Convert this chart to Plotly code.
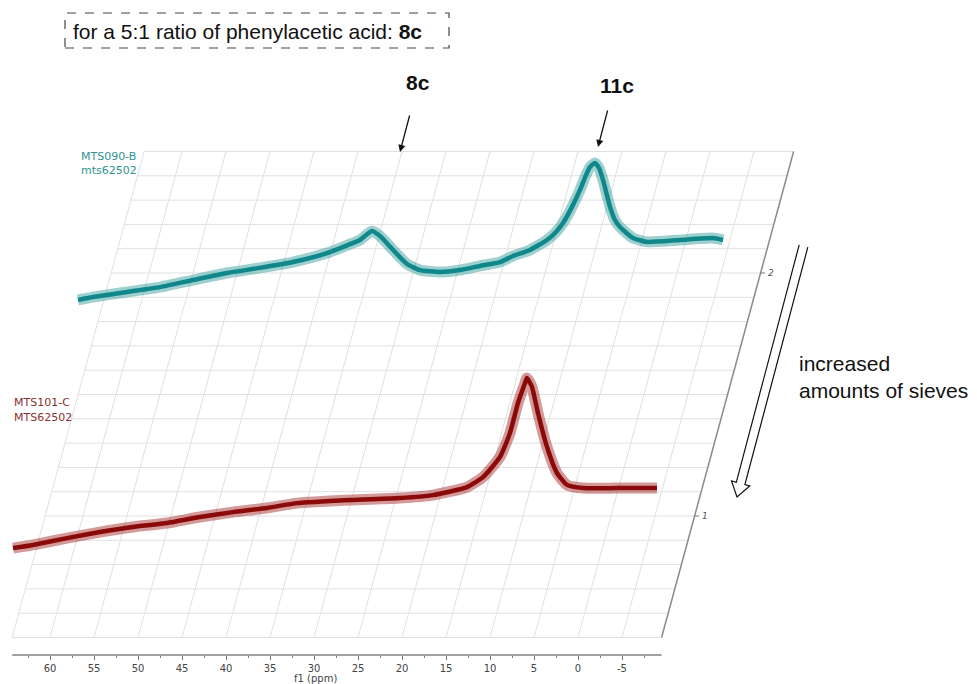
import plotly.graph_objects as go

# ---------------- data ----------------
# Spectrum 2 (top, teal): MTS090-B / mts62502
teal_ppm = [64.32, 62.61, 58.75, 55.00, 51.25, 47.39, 43.64, 39.89, 36.02, 33.41,
            32.27, 30.91, 30.00, 28.52, 26.93, 25.45, 23.18, 20.91, 18.64, 16.36,
            14.89, 12.95, 11.02, 10.00, 9.20, 8.18, 7.27, 6.59, 6.14, 5.57,
            5.11, 4.66, 3.86, 3.30, 2.73, 1.25, -0.34, -4.09, -7.84, -8.98]
teal_int = [-0.111, -0.099, -0.078, -0.058, -0.029, 0.000, 0.021, 0.045, 0.082, 0.119,
            0.136, 0.173, 0.152, 0.095, 0.037, 0.012, 0.004, 0.012, 0.029, 0.045,
            0.070, 0.095, 0.136, 0.169, 0.206, 0.272, 0.342, 0.403, 0.436, 0.453,
            0.432, 0.383, 0.272, 0.218, 0.189, 0.144, 0.128, 0.136, 0.144, 0.136]

# Spectrum 1 (bottom, dark red): MTS101-C / MTS62502
red_ppm = [64.20, 61.93, 58.07, 54.32, 50.57, 46.70, 42.95, 39.20, 35.34, 31.93,
           25.91, 20.23, 16.48, 12.61, 10.80, 8.86, 7.73, 6.82, 6.02, 5.80,
           5.23, 4.55, 3.52, 2.39, 1.25, -0.57, -4.43, -8.98]
red_int = [-0.132, -0.119, -0.091, -0.066, -0.045, -0.029, -0.004, 0.016, 0.033, 0.053,
           0.066, 0.074, 0.086, 0.119, 0.160, 0.243, 0.342, 0.465, 0.547, 0.568,
           0.531, 0.424, 0.284, 0.177, 0.128, 0.115, 0.115, 0.115]

layers = [1, 2]                 # stacking index of each spectrum
layer_labels = ["1", "2"]
ppm_ticks = [60, 55, 50, 45, 40, 35, 30, 25, 20, 15, 10, 5, 0, -5]
ppm_minor = [62.5, 57.5, 52.5, 47.5, 42.5, 37.5, 32.5, 27.5, 22.5, 17.5, 12.5, 7.5, 2.5, -2.5, -7.5]
grid_levels = [round(0.5 + 0.1 * i, 2) for i in range(21)]
ppm_left, ppm_right = 64.3, -9.5
y_bottom, y_top = 0.5, 2.5

# ---------------- geometry ----------------
W, H = 977, 684
MB = 29
PH = H - MB
PXPPM = 8.8
X0PX = 578.0
SKEW = 7.5          # ppm of horizontal shift per stacking unit

def xs(ppm, y):
    return ppm - SKEW * (y - y_bottom)

fig = go.Figure()

# grid (skewed)
gx, gy = [], []
for p in ppm_ticks + [ppm_left]:
    gx += [xs(p, y_bottom), xs(p, y_top), None]
    gy += [y_bottom, y_top, None]
for lv in grid_levels:
    gx += [xs(ppm_left, lv), xs(ppm_right, lv), None]
    gy += [lv, lv, None]
fig.add_trace(go.Scatter(x=gx, y=gy, mode="lines", line=dict(color="#e0e0e0", width=1),
                         hoverinfo="skip", showlegend=False))

# right (stacking) axis
fig.add_trace(go.Scatter(x=[xs(ppm_right, y_bottom), xs(ppm_right, y_top)], y=[y_bottom, y_top],
                         mode="lines", line=dict(color="#8a8a8a", width=1.5),
                         hoverinfo="skip", showlegend=False))
tx, ty = [], []
for lv in layers:
    tx += [xs(ppm_right, lv), xs(ppm_right, lv) - 0.5, None]
    ty += [lv, lv, None]
fig.add_trace(go.Scatter(x=tx, y=ty, mode="lines", line=dict(color="#777", width=1),
                         hoverinfo="skip", showlegend=False))
for lv, lab in zip(layers, layer_labels):
    fig.add_annotation(x=xs(ppm_right, lv) - 0.6, y=lv, xref="x", yref="y", text="<i>%s</i>" % lab,
                       showarrow=False, xanchor="left", yanchor="middle",
                       font=dict(family="DejaVu Sans", size=9, color="#555"))

# spectra: a faint wide band (noise envelope) under a darker core line
spectra = [
    ([p - SKEW * (layers[1] - layers[0]) for p in teal_ppm], [layers[1] + v for v in teal_int],
     "rgba(40,150,150,0.45)", "#10878a"),
    (red_ppm, [layers[0] + v for v in red_int], "rgba(160,30,30,0.45)", "#8a0a0a"),
]
for xv, yv, band_col, core_col in spectra:
    fig.add_trace(go.Scatter(x=xv, y=yv, mode="lines",
                             line=dict(color=band_col, width=11, shape="spline", smoothing=0.5),
                             hoverinfo="skip", showlegend=False))
    fig.add_trace(go.Scatter(x=xv, y=yv, mode="lines",
                             line=dict(color=core_col, width=4.5, shape="spline", smoothing=0.5),
                             hoverinfo="skip", showlegend=False))

def px(xp):
    return xp / W

def py(yp):
    return (PH - yp) / PH

# spectrum labels
for txt, x0, y0, col in [("MTS090-B", 79, 157, "#2f9393"), ("mts62502", 79, 171, "#2f9393"),
                         ("MTS101-C", 12, 402, "#8a3030"), ("MTS62502", 12, 417, "#8a3030")]:
    fig.add_annotation(x=px(x0), y=py(y0), xref="paper", yref="paper", text=txt, showarrow=False,
                       xanchor="left", yanchor="middle",
                       font=dict(family="DejaVu Sans", size=11, color=col))

# dashed caption box
fig.add_shape(type="rect", xref="paper", yref="paper", x0=px(65), x1=px(449), y0=py(48), y1=py(13),
              line=dict(color="#444", width=1.2, dash="dash"))
fig.add_annotation(x=px(71), y=py(31), xref="paper", yref="paper",
                   text="for a 5:1 ratio of phenylacetic acid: <b>8c</b>", showarrow=False,
                   xanchor="left", yanchor="middle",
                   font=dict(family="Liberation Sans, Arial", size=21, color="#111"))

# compound labels + arrows
for txt, cx, cy, x1, y1, x2, y2 in [("8c", 418, 82, 410, 114, 400, 152),
                                    ("11c", 617, 85, 608, 109, 598, 147)]:
    fig.add_annotation(x=px(cx), y=py(cy), xref="paper", yref="paper", text="<b>%s</b>" % txt,
                       showarrow=False, xanchor="center", yanchor="middle",
                       font=dict(family="Liberation Sans, Arial", size=21, color="#111"))
    fig.add_annotation(x=px(x2), y=py(y2), xref="paper", yref="paper", ax=x1 - x2, ay=y1 - y2,
                       axref="pixel", ayref="pixel", text="", showarrow=True,
                       arrowhead=2, arrowsize=1.1, arrowwidth=1.3, arrowcolor="#111")

# hollow arrow
def P(x, y):
    return "%.5f,%.5f" % (px(x), py(y))
path = ("M " + P(799.2, 244.8) + " L " + P(736.3, 482.3) + " L " + P(731.5, 481.0) +
        " L " + P(737.0, 497.0) + " L " + P(749.7, 486.0) + " L " + P(744.9, 484.7) +
        " L " + P(807.8, 247.2))
fig.add_shape(type="path", xref="paper", yref="paper", path=path,
              line=dict(color="#111", width=1.2))
fig.add_annotation(x=px(797), y=py(377), xref="paper", yref="paper",
                   text="increased<br>amounts of sieves", showarrow=False, align="left",
                   xanchor="left", yanchor="middle",
                   font=dict(family="Liberation Sans, Arial", size=21, color="#111"))

# bottom axis line
fig.add_shape(type="line", xref="x", yref="paper", x0=ppm_left, x1=ppm_right, y0=0, y1=0,
              line=dict(color="#808080", width=1.5))
fig.add_annotation(x=px(315), y=py(678), xref="paper", yref="paper", text="f1 (ppm)",
                   showarrow=False, xanchor="center", yanchor="middle",
                   font=dict(family="DejaVu Sans", size=10, color="#444"))

fig.update_layout(
    width=W, height=H, margin=dict(l=0, r=0, t=0, b=MB),
    paper_bgcolor="white", plot_bgcolor="white",
    xaxis=dict(range=[X0PX / PXPPM, (X0PX - W) / PXPPM], tickvals=ppm_ticks,
               ticktext=[str(t) for t in ppm_ticks], ticks="outside", ticklen=4,
               tickcolor="#777", showgrid=False, zeroline=False, showline=False,
               tickfont=dict(family="DejaVu Sans", size=10, color="#444"),
               minor=dict(tickvals=ppm_minor, ticks="outside", ticklen=2, tickcolor="#777",
                          showgrid=False)),
    yaxis=dict(range=[2 + (273 - PH) / 243, 2 + 273 / 243], visible=False),
)

fig.write_html("out.html")
